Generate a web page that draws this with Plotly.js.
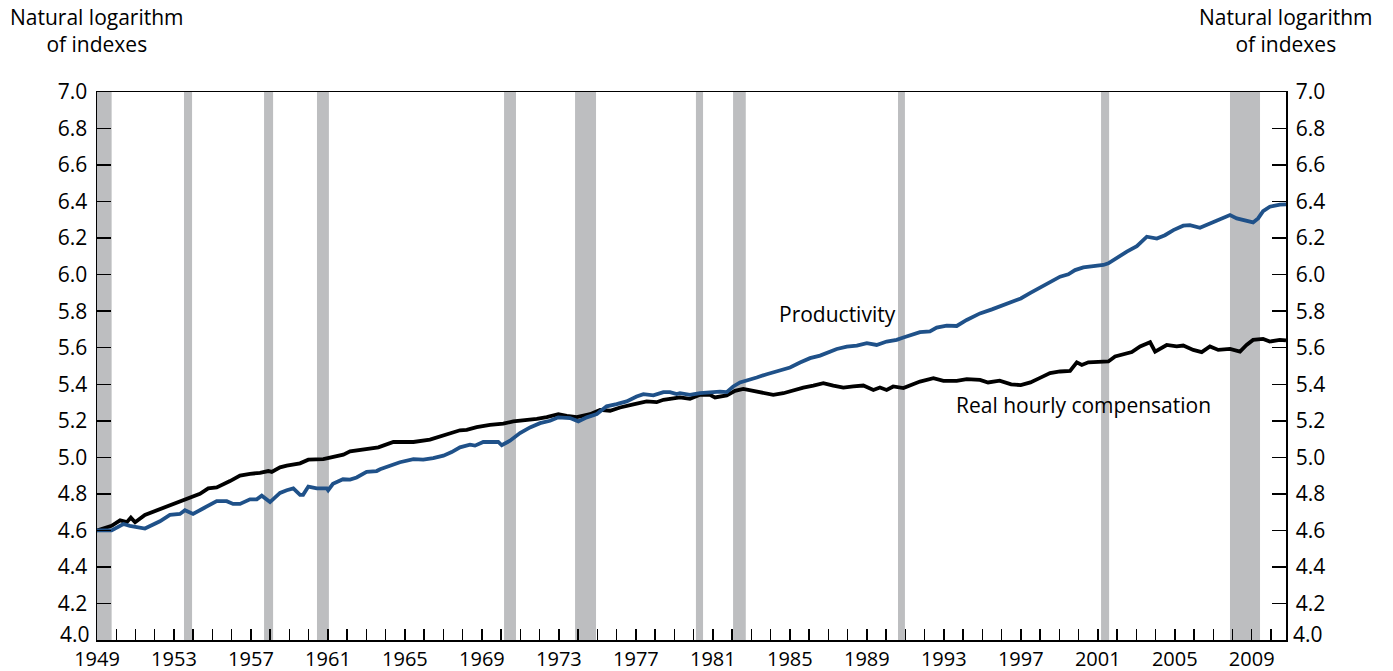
<!DOCTYPE html>
<html>
<head>
<meta charset="utf-8">
<script src="https://cdn.plot.ly/plotly-3.0.1.min.js"></script>
<style>html,body{margin:0;padding:0;background:#fff;}#chart{width:1393px;height:671px;}</style>
</head>
<body>
<div id="chart"></div>
<script>
// Productivity (blue), natural log of index, by decimal year
const prodYears = [1949.0,1949.76,1950.37,1950.71,1951.49,1952.27,1952.79,1953.31,1953.57,1953.99,1954.51,1955.22,1955.74,1956.07,1956.43,1956.95,1957.30,1957.56,1957.99,1958.51,1958.86,1959.20,1959.55,1959.71,1959.98,1960.42,1960.94,1961.01,1961.26,1961.78,1962.15,1962.49,1963.01,1963.53,1963.71,1964.22,1964.74,1965.44,1965.95,1966.47,1967.0,1967.43,1967.86,1968.38,1968.64,1969.07,1969.59,1969.85,1970.03,1970.46,1970.98,1971.5,1972.02,1972.54,1972.97,1973.58,1974.01,1974.45,1974.97,1975.48,1976.0,1976.52,1977.04,1977.39,1977.91,1978.43,1978.77,1979.12,1979.29,1979.81,1980.33,1980.85,1981.37,1981.72,1982.06,1982.41,1982.76,1983.28,1983.8,1984.49,1985.01,1985.53,1986.05,1986.57,1986.92,1987.44,1987.96,1988.48,1989.0,1989.51,1990.03,1990.55,1990.9,1991.42,1991.76,1992.28,1992.63,1993.15,1993.67,1994.19,1994.88,1995.5,1996.0,1996.5,1997.0,1997.5,1998.0,1998.52,1999.04,1999.47,1999.82,2000.25,2000.77,2001.29,2001.55,2001.99,2002.51,2003.03,2003.29,2003.55,2004.07,2004.49,2004.93,2005.44,2005.79,2006.31,2006.83,2007.26,2007.87,2008.22,2008.56,2009.07,2009.33,2009.59,2009.94,2010.46,2010.78];
const productivity = [4.60,4.60,4.635,4.625,4.61,4.65,4.685,4.69,4.71,4.69,4.72,4.76,4.76,4.745,4.745,4.77,4.77,4.79,4.755,4.805,4.82,4.83,4.795,4.795,4.84,4.83,4.83,4.82,4.855,4.88,4.878,4.89,4.92,4.925,4.935,4.956,4.973,4.99,4.987,4.996,5.009,5.029,5.055,5.069,5.064,5.084,5.087,5.084,5.066,5.091,5.133,5.164,5.187,5.20,5.219,5.215,5.197,5.219,5.237,5.279,5.291,5.306,5.333,5.346,5.339,5.357,5.357,5.346,5.351,5.342,5.351,5.357,5.36,5.357,5.388,5.41,5.419,5.437,5.455,5.479,5.492,5.519,5.543,5.557,5.57,5.593,5.606,5.612,5.625,5.615,5.634,5.643,5.656,5.674,5.685,5.689,5.710,5.721,5.719,5.752,5.788,5.81,5.83,5.85,5.87,5.90,5.93,5.962,5.989,6.002,6.025,6.04,6.047,6.053,6.062,6.093,6.126,6.156,6.18,6.208,6.198,6.216,6.244,6.268,6.271,6.257,6.28,6.298,6.326,6.308,6.298,6.286,6.308,6.348,6.372,6.384,6.385];

// Real hourly compensation (black)
const compYears = [1949.0,1949.76,1950.20,1950.55,1950.76,1950.98,1951.49,1952.27,1952.79,1953.31,1953.83,1954.35,1954.78,1955.22,1955.91,1956.43,1956.95,1957.47,1957.90,1958.08,1958.51,1958.86,1959.55,1959.98,1960.76,1961.28,1961.80,1962.15,1963.01,1963.62,1964.40,1965.44,1966.3,1967.17,1967.86,1968.21,1968.73,1969.42,1970.11,1970.63,1971.15,1971.85,1972.37,1972.97,1973.41,1973.93,1974.62,1975.14,1975.66,1976.18,1976.87,1977.56,1978.08,1978.43,1979.29,1979.81,1980.33,1980.85,1981.11,1981.72,1982.15,1982.58,1983.1,1983.62,1984.14,1984.66,1985.18,1985.70,1986.22,1986.74,1987.26,1987.78,1988.3,1988.82,1989.34,1989.68,1990.03,1990.37,1990.9,1991.24,1991.76,1992.46,1992.98,1993.67,1994.19,1994.88,1995.3,1995.9,1996.5,1997.0,1997.5,1998.0,1998.52,1999.04,1999.56,1999.91,2000.17,2000.51,2001.29,2001.55,2001.9,2002.33,2002.77,2003.2,2003.72,2003.98,2004.58,2005.1,2005.44,2005.96,2006.40,2006.83,2007.26,2007.87,2008.39,2008.73,2009.07,2009.59,2009.94,2010.46,2010.78];
const compensation = [4.60,4.625,4.655,4.645,4.67,4.645,4.685,4.715,4.74,4.76,4.78,4.80,4.83,4.835,4.87,4.90,4.91,4.915,4.925,4.92,4.945,4.955,4.967,4.987,4.99,5.0,5.015,5.033,5.047,5.055,5.084,5.084,5.097,5.124,5.148,5.150,5.165,5.178,5.184,5.197,5.202,5.211,5.22,5.236,5.227,5.22,5.236,5.26,5.255,5.273,5.29,5.306,5.302,5.315,5.328,5.32,5.342,5.342,5.328,5.339,5.364,5.375,5.364,5.351,5.342,5.351,5.369,5.382,5.393,5.406,5.393,5.382,5.388,5.393,5.369,5.382,5.369,5.388,5.379,5.393,5.415,5.433,5.419,5.419,5.428,5.424,5.41,5.42,5.40,5.395,5.41,5.435,5.461,5.47,5.473,5.52,5.506,5.52,5.525,5.525,5.552,5.565,5.576,5.607,5.63,5.579,5.615,5.607,5.612,5.588,5.576,5.607,5.588,5.594,5.579,5.615,5.643,5.648,5.634,5.643,5.64];

// Recession periods (shaded), decimal years
const recStart = [1949.0,1953.52,1957.68,1960.43,1970.15,1973.84,1980.12,1982.05,1990.62,2001.17,2007.87];
const recEnd   = [1949.76,1953.94,1958.15,1961.05,1970.77,1974.93,1980.49,1982.71,1990.98,2001.59,2009.43];

// Y-axis tick values and labels (the bottom "4.0" label is drawn slightly raised, as in the original)
const yTickVals = [4.0,4.2,4.4,4.6,4.8,5.0,5.2,5.4,5.6,5.8,6.0,6.2,6.4,6.6,6.8,7.0];
const yTickText = ['', '4.2','4.4','4.6','4.8','5.0','5.2','5.4','5.6','5.8','6.0','6.2','6.4','6.6','6.8','7.0'];
const yBottomLabel = '4.0';

const yTitle = "Natural logarithm<br>of indexes";
const labelProd = "Productivity";
const labelComp = "Real hourly compensation";

const FONT = "'Open Sans', 'Noto Sans', sans-serif";

const shapes = recStart.map((s, i) => ({
  type: 'rect', xref: 'x', yref: 'paper', x0: s, x1: recEnd[i], y0: 0, y1: 1,
  fillcolor: '#bdbec0', line: {width: 0}, layer: 'below'
}));

const traces = [
  {x: compYears, y: compensation, type: 'scatter', mode: 'lines', name: labelComp,
   line: {color: '#000000', width: 3.8}, hoverinfo: 'skip'},
  {x: prodYears, y: productivity, type: 'scatter', mode: 'lines', name: labelProd,
   line: {color: '#1f5189', width: 3.8}, hoverinfo: 'skip'},
  {x: [2000], y: [5.5], yaxis: 'y2', type: 'scatter', mode: 'markers',
   marker: {opacity: 0}, showlegend: false, hoverinfo: 'skip'}
];

const yCommon = {
  range: [4, 7], autorange: false, tickmode: 'array', tickvals: yTickVals, ticktext: yTickText,
  ticks: 'inside', ticklen: 14, tickwidth: 1.5, tickcolor: '#000',
  showline: true, linecolor: '#000', linewidth: 1.5, showgrid: false, zeroline: false,
  tickfont: {family: FONT, size: 21, color: '#000'}
};

const layout = {
  width: 1393, height: 671,
  margin: {l: 97, r: 107, t: 92, b: 31},
  paper_bgcolor: '#fff', plot_bgcolor: '#fff',
  showlegend: false,
  font: {family: FONT, size: 21, color: '#000'},
  xaxis: {
    range: [1949, 2010.78], autorange: false, tick0: 1949, dtick: 4,
    ticks: 'inside', ticklen: 11, tickwidth: 1.5, tickcolor: '#000',
    minor: {dtick: 1, tick0: 1949, ticks: 'inside', ticklen: 11, tickwidth: 1.5, tickcolor: '#000', showgrid: false},
    showline: true, linecolor: '#000', linewidth: 1.5, mirror: true,
    showgrid: false, zeroline: false, ticklabelstandoff: 0,
    tickfont: {family: FONT, size: 20, color: '#000'}
  },
  yaxis: Object.assign({}, yCommon, {side: 'left', ticklabelstandoff: 4}),
  yaxis2: Object.assign({}, yCommon, {side: 'right', overlaying: 'y', ticklabelstandoff: 4}),
  shapes: shapes,
  annotations: [
    {xref: 'paper', yref: 'paper', x: 0, y: 1.113, xanchor: 'center', yanchor: 'middle',
     text: yTitle, showarrow: false, align: 'center', font: {family: FONT, size: 21, color: '#000'}},
    {xref: 'paper', yref: 'paper', x: 1, y: 1.113, xanchor: 'center', yanchor: 'middle',
     text: yTitle, showarrow: false, align: 'center', font: {family: FONT, size: 21, color: '#000'}},
    {xref: 'x', yref: 'y', x: 1987.45, y: 5.783, text: labelProd, showarrow: false,
     xanchor: 'center', yanchor: 'middle', font: {family: FONT, size: 21, color: '#000'}},
    {xref: 'x', yref: 'y', x: 2000.26, y: 5.286, text: labelComp, showarrow: false,
     xanchor: 'center', yanchor: 'middle', font: {family: FONT, size: 21, color: '#000'}},
    {xref: 'paper', yref: 'y', x: 0, y: 4.0, text: yBottomLabel, showarrow: false,
     xanchor: 'right', yanchor: 'middle', xshift: -6, yshift: 6, borderpad: 0,
     font: {family: FONT, size: 21, color: '#000'}},
    {xref: 'paper', yref: 'y', x: 1, y: 4.0, text: yBottomLabel, showarrow: false,
     xanchor: 'left', yanchor: 'middle', xshift: 6, yshift: 6, borderpad: 0,
     font: {family: FONT, size: 21, color: '#000'}}
  ]
};

Plotly.newPlot('chart', traces, layout, {staticPlot: true, displayModeBar: false});
</script>
</body>
</html>
